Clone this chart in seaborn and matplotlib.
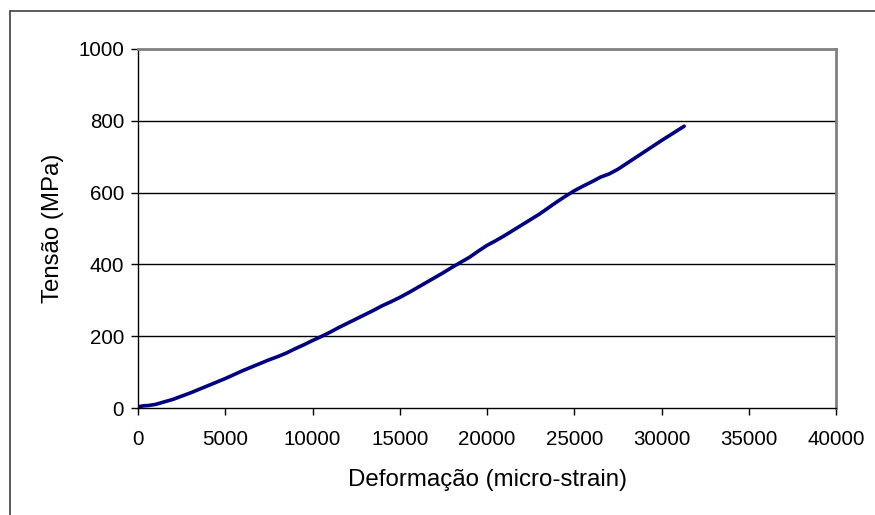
import matplotlib
matplotlib.use("Agg")
import matplotlib.pyplot as plt
import seaborn as sns
import pandas as pd
from matplotlib.lines import Line2D

strain = [0, 300, 600, 1000, 1500, 2000, 2500, 3000, 3500, 4000, 4500, 5000, 5500, 6000,
          6500, 7000, 7500, 8000, 8500, 9000, 9500, 10000, 10500, 11000, 11500, 12000,
          12500, 13000, 13500, 14000, 14500, 15000, 15500, 16000, 16500, 17000, 17500,
          18000, 18500, 19000, 19500, 20000, 20500, 21000, 21500, 22000, 22500, 23000,
          23500, 24000, 24500, 25000, 25500, 26000, 26500, 27000, 27500, 28000, 29000,
          30000, 31300]
stress = [3, 6, 7, 10, 17, 24, 33, 42, 52, 62, 72, 82, 93, 104, 114, 124, 134, 143, 153,
          165, 176, 188, 199, 211, 224, 236, 248, 260, 272, 285, 296, 308, 321, 335, 349,
          363, 377, 392, 406, 420, 437, 453, 466, 480, 495, 510, 525, 540, 557, 574, 590,
          605, 618, 630, 643, 652, 665, 681, 713, 745, 785]

xticks = [0, 5000, 10000, 15000, 20000, 25000, 30000, 35000, 40000]
yticks = [0, 200, 400, 600, 800, 1000]

df = pd.DataFrame({"strain": strain, "stress": stress})

sns.set_style("white")
plt.rcParams['font.family'] = ['Liberation Sans', 'DejaVu Sans']
plt.rcParams['text.color'] = 'black'
plt.rcParams['axes.labelcolor'] = 'black'
plt.rcParams['xtick.color'] = 'black'
plt.rcParams['ytick.color'] = 'black'

fig = plt.figure(figsize=(8.75, 5.15), dpi=100)
ax = fig.add_axes([138/875, 1-408/515, (836-138)/875, (408-49)/515])

sns.lineplot(data=df, x="strain", y="stress", ax=ax, color="#000080", linewidth=2.6,
             estimator=None, sort=False)

ax.set_xlim(0, 40000)
ax.set_ylim(0, 1000)
ax.set_xticks(xticks)
ax.set_yticks(yticks)
ax.set_xticklabels([str(t) for t in xticks], fontsize=14.8)
ax.set_yticklabels([str(t) for t in yticks], fontsize=14.8)
for y in yticks[1:-1]:
    ax.axhline(y, color="#000000", linewidth=1.0, zorder=0)

ax.spines['left'].set_color('black')
ax.spines['bottom'].set_color('black')
ax.spines['top'].set_color('#808080')
ax.spines['right'].set_color('#808080')
for s in ['left', 'bottom']:
    ax.spines[s].set_linewidth(1.0)
for s in ['top', 'right']:
    ax.spines[s].set_linewidth(2.0)

ax.tick_params(axis='both', direction='out', length=5, width=1, color='black',
               bottom=True, left=True)
ax.tick_params(axis='x', pad=11)
ax.tick_params(axis='y', pad=5)

ax.set_xlabel("Deformação (micro-strain)", fontsize=17.3, labelpad=14)
ax.set_ylabel("Tensão (MPa)", fontsize=17.3, labelpad=10)

fig.add_artist(Line2D([10/875, 10/875], [0, 1-11/515], transform=fig.transFigure,
                      color="#404040", linewidth=1.2))
fig.add_artist(Line2D([10/875, 1], [1-11/515, 1-11/515], transform=fig.transFigure,
                      color="#404040", linewidth=1.2))

fig.savefig("out.png", dpi=100)
